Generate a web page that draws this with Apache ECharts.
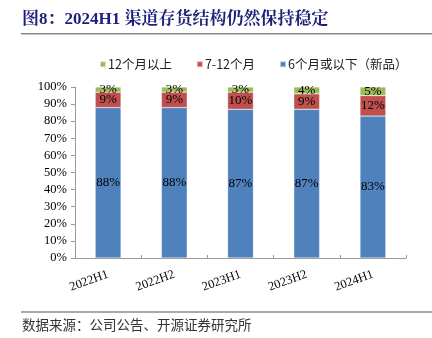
<!DOCTYPE html>
<html><head><meta charset="utf-8">
<script src="https://cdn.jsdelivr.net/npm/echarts@6/dist/echarts.min.js"></script>
<style>html,body{margin:0;padding:0;background:#fff}#c{width:432px;height:338px}</style>
</head><body><div id="c"></div>
<script>
const categories = ['2022H1','2022H2','2023H1','2023H2','2024H1'];
const newStock = [88, 88, 87, 87, 83];
const mid = [9, 9, 10, 9, 12];
const old = [3, 3, 3, 4, 5];
const seriesNames = ['12个月以上','7-12个月','6个月或以下（新品）'];
const yTicks = [0,10,20,30,40,50,60,70,80,90,100];

const chart = echarts.init(document.getElementById('c'), null, {renderer:'canvas'});
const serif = '"Liberation Serif","Times New Roman",serif';
const cjk = '"Noto Sans CJK SC","Noto Sans",sans-serif';
const lbl = {show:true, position:'inside', formatter: p => p.value + '%', color:'#000', fontFamily: serif, fontSize: 13};
const common = {type:'bar', stack:'a', barWidth:'39%', itemStyle:{borderColor:'rgba(255,255,255,0.6)', borderWidth:0.5}, label: lbl};
chart.setOption({
  animation:false,
  grid:{left:75, right:26, top:87, bottom:80},
  legend:{
    top:53, left:94, itemWidth:6, itemHeight:6, itemGap:24, icon:'rect',
    textStyle:{fontFamily:cjk, fontSize:12.5, color:'#222', padding:[0,0,0,-3]},
    data:[seriesNames[0], seriesNames[1], seriesNames[2]]
  },
  xAxis:{type:'category', data:categories,
    axisLine:{lineStyle:{color:'#999', width:1}},
    axisTick:{show:true, inside:true, length:3, lineStyle:{color:'#999'}},
    axisLabel:{rotate:20, fontFamily:serif, fontSize:12.5, color:'#000', margin:16}
  },
  yAxis:{type:'value', min:0, max:100, interval:10,
    axisLine:{show:true, lineStyle:{color:'#999'}},
    axisTick:{show:true, inside:false, length:4, lineStyle:{color:'#999'}},
    splitLine:{show:false},
    axisLabel:{formatter: v => v + '%', fontFamily:serif, fontSize:12.5, color:'#000', margin:8}
  },
  series:[
    Object.assign({}, common, {name:seriesNames[2], data:newStock, itemStyle:Object.assign({}, common.itemStyle, {color:'#4F81BD'})}),
    Object.assign({}, common, {name:seriesNames[1], data:mid, itemStyle:Object.assign({}, common.itemStyle, {color:'#C0504D'})}),
    Object.assign({}, common, {name:seriesNames[0], data:old, itemStyle:Object.assign({}, common.itemStyle, {color:'#9BBB59'})})
  ],
  graphic:[
    {type:'text', left:22, top:11, style:{text:'图8：2024H1 渠道存货结构仍然保持稳定', fontFamily:'"Liberation Serif","Noto Serif CJK SC","Noto Sans CJK SC",serif', fontWeight:'bold', fontSize:17, fill:'#1F1F7A'}},
    {type:'rect', shape:{x:21, y:33, width:411, height:1.5}, style:{fill:'#888'}},
    {type:'rect', shape:{x:21, y:311.5, width:411, height:1}, style:{fill:'#555'}},
    {type:'text', left:22, top:318, style:{text:'数据来源：公司公告、开源证券研究所', fontFamily:cjk, fontSize:13.5, fill:'#333'}}
  ]
});
</script></body></html>
